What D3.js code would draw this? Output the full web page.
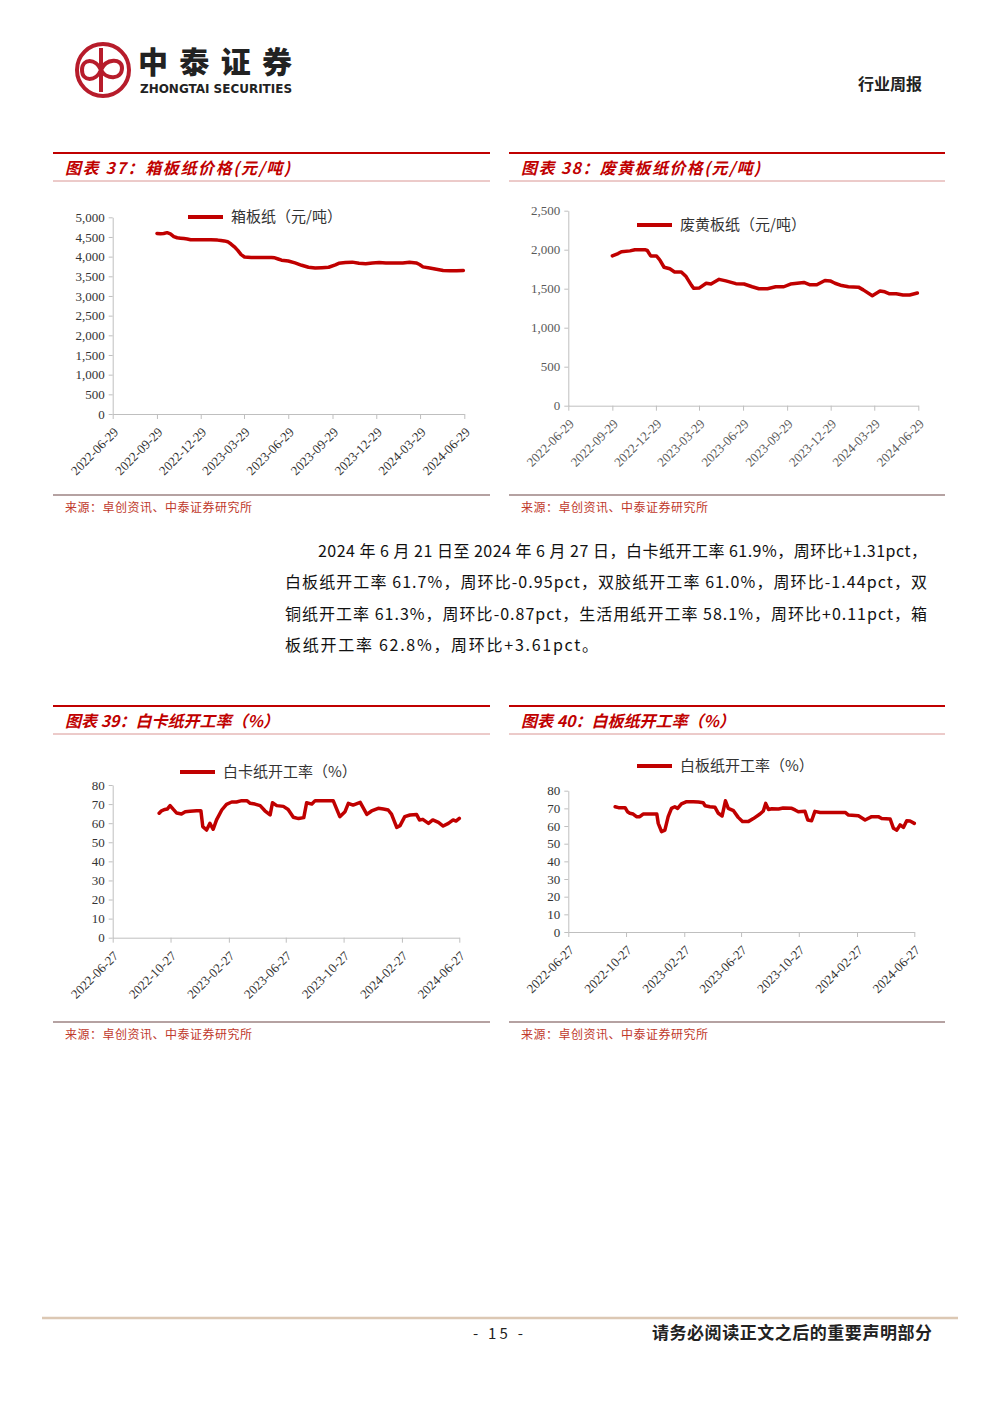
<!DOCTYPE html>
<html>
<head>
<meta charset="utf-8">
<script src="https://cdn.jsdelivr.net/npm/d3@7"></script>
<style>
  body { margin: 0; background: #fff; }
  svg text { font-family: "Noto Sans CJK SC", sans-serif; }
  .axis .tick text { font-family: "Liberation Serif", "DejaVu Serif", serif; }
</style>
</head>
<body>
<svg id="page" width="1000" height="1413"></svg>
<script>
// ---- data ----
var ticksA = ["2022-06-29","2022-09-29","2022-12-29","2023-03-29","2023-06-29","2023-09-29","2023-12-29","2024-03-29","2024-06-29"];
var ticksB = ["2022-06-27","2022-10-27","2023-02-27","2023-06-27","2023-10-27","2024-02-27","2024-06-27"];

var yTicks1 = [0,500,1000,1500,2000,2500,3000,3500,4000,4500,5000];
var yTicks2 = [0,500,1000,1500,2000,2500];
var yTicksPct = [0,10,20,30,40,50,60,70,80];

// 箱板纸价格
var dates1 = ["2022-09-29","2022-10-06","2022-10-13","2022-10-20","2022-10-27","2022-11-03","2022-11-10","2022-11-17","2022-11-24","2022-12-01",
  "2022-12-08","2022-12-22","2023-01-05","2023-01-19","2023-02-02","2023-02-09","2023-02-16","2023-02-23","2023-03-02","2023-03-09",
  "2023-03-16","2023-03-23","2023-03-30","2023-04-13","2023-04-27","2023-05-11","2023-05-25","2023-06-01","2023-06-08","2023-06-15",
  "2023-06-29","2023-07-13","2023-07-27","2023-08-10","2023-08-24","2023-09-07","2023-09-21","2023-10-05","2023-10-12","2023-10-26",
  "2023-11-09","2023-11-23","2023-12-07","2023-12-21","2024-01-04","2024-01-18","2024-02-01","2024-02-22","2024-03-07","2024-03-21",
  "2024-03-28","2024-04-04","2024-04-18","2024-05-02","2024-05-16","2024-05-30","2024-06-13","2024-06-27"];
var values1 = [4590,4580,4590,4610,4580,4510,4480,4470,4460,4450,
  4430,4430,4430,4430,4420,4410,4400,4380,4320,4250,
  4160,4050,3990,3980,3980,3980,3980,3970,3940,3910,
  3890,3840,3780,3730,3710,3720,3730,3790,3830,3850,
  3860,3830,3820,3840,3850,3840,3840,3840,3860,3840,
  3800,3740,3710,3680,3650,3640,3640,3650];

// 废黄板纸价格
var dates2 = ["2022-09-29","2022-10-11","2022-10-18","2022-11-05","2022-11-15","2022-12-06","2022-12-11","2022-12-18","2022-12-30","2023-01-06",
  "2023-01-15","2023-01-27","2023-02-06","2023-02-20","2023-03-02","2023-03-13","2023-03-18","2023-03-30","2023-04-13","2023-04-23",
  "2023-05-10","2023-05-24","2023-06-14","2023-07-01","2023-07-18","2023-08-01","2023-08-19","2023-09-05","2023-09-22","2023-10-06",
  "2023-10-20","2023-11-03","2023-11-16","2023-11-30","2023-12-17","2023-12-28","2024-01-07","2024-01-21","2024-02-04","2024-02-25",
  "2024-03-06","2024-03-25","2024-04-10","2024-04-20","2024-04-30","2024-05-14","2024-05-28","2024-06-11","2024-06-27"];
var values2 = [1920,1950,1975,1985,2000,2000,1990,1920,1920,1870,
  1775,1755,1715,1715,1655,1545,1505,1510,1570,1560,
  1620,1600,1565,1560,1525,1500,1500,1525,1525,1560,
  1570,1580,1550,1550,1605,1600,1570,1540,1525,1520,
  1485,1410,1470,1460,1435,1435,1420,1420,1445];

// 白卡纸开工率
var dates3 = ["2022-10-03","2022-10-08","2022-10-15","2022-10-20","2022-10-26","2022-11-02","2022-11-09","2022-11-19","2022-11-27","2022-12-07",
  "2022-12-21","2022-12-30","2023-01-03","2023-01-11","2023-01-18","2023-01-25","2023-02-01","2023-02-12","2023-02-22","2023-03-05",
  "2023-03-15","2023-03-26","2023-04-06","2023-04-13","2023-04-23","2023-05-04","2023-05-14","2023-05-25","2023-05-30","2023-06-08",
  "2023-06-22","2023-07-02","2023-07-13","2023-07-24","2023-08-04","2023-08-10","2023-08-21","2023-08-28","2023-09-11","2023-10-05",
  "2023-10-19","2023-10-30","2023-11-06","2023-11-16","2023-12-01","2023-12-15","2023-12-25","2024-01-08","2024-01-19","2024-01-29",
  "2024-02-05","2024-02-16","2024-02-23","2024-03-04","2024-03-15","2024-03-29","2024-04-04","2024-04-11","2024-04-23","2024-05-02",
  "2024-05-14","2024-05-24","2024-06-04","2024-06-14","2024-06-20","2024-06-27"];
var values3 = [65.2,66.5,67.2,67.4,69.2,67.2,65.3,64.8,66.0,66.2,
  66.5,66.5,58.2,56.4,59.9,56.8,61.7,66.9,69.9,71.1,
  71.1,71.8,71.8,70.4,70.0,69.2,66.5,64.3,70.7,69.2,
  68.8,67.2,63.1,62.4,62.9,70.7,70.0,71.8,71.8,71.8,
  63.4,66.0,70.4,69.5,70.9,64.6,66.4,67.8,67.4,66.9,
  64.8,57.8,58.7,63.4,64.3,64.5,61.7,62.0,59.9,61.7,
  60.4,58.5,59.9,61.7,61.1,62.5];

// 白板纸开工率
var dates4 = ["2022-10-04","2022-10-11","2022-10-25","2022-10-30","2022-11-04","2022-11-11","2022-11-18","2022-11-25","2022-12-02","2022-12-20",
  "2022-12-31","2023-01-03","2023-01-10","2023-01-17","2023-01-24","2023-01-31","2023-02-07","2023-02-13","2023-02-21","2023-03-04",
  "2023-03-18","2023-03-29","2023-04-08","2023-04-12","2023-04-22","2023-05-03","2023-05-10","2023-05-18","2023-05-25","2023-05-31",
  "2023-06-11","2023-06-21","2023-06-30","2023-07-12","2023-07-23","2023-08-06","2023-08-13","2023-08-18","2023-08-24","2023-08-31",
  "2023-09-14","2023-09-24","2023-10-12","2023-10-19","2023-10-26","2023-11-09","2023-11-15","2023-11-23","2023-11-30","2023-12-11",
  "2024-02-02","2024-02-09","2024-03-01","2024-03-15","2024-03-29","2024-04-12","2024-04-19","2024-05-07","2024-05-14","2024-05-21",
  "2024-05-28","2024-06-04","2024-06-11","2024-06-18","2024-06-27"];
var values4 = [70.9,70.4,70.4,68.1,67.2,66.8,65.3,65.3,66.8,66.8,
  66.8,61.5,56.8,57.7,65.3,70.0,70.9,70.0,72.5,73.8,
  73.8,73.6,73.2,71.5,70.9,70.6,67.2,65.7,74.3,70.0,
  68.7,64.9,62.5,62.5,64.2,66.8,68.5,72.8,69.4,69.8,
  69.6,70.2,70.0,69.1,68.1,68.3,63.4,63.0,68.3,67.7,
  67.7,66.2,65.8,63.4,65.3,65.3,64.3,64.0,58.7,57.7,
  60.6,59.2,63.0,62.8,61.5];

var bodyLines = [
  "2024 年 6 月 21 日至 2024 年 6 月 27 日，白卡纸开工率 61.9%，周环比+1.31pct，",
  "白板纸开工率 61.7%，周环比-0.95pct，双胶纸开工率 61.0%，周环比-1.44pct，双",
  "铜纸开工率 61.3%，周环比-0.87pct，生活用纸开工率 58.1%，周环比+0.11pct，箱",
  "板纸开工率 62.8%，周环比+3.61pct。"
];

// ---- page ----
var red = "#c00000";
var axisColor = "#bfbfbf";
var parse = d3.timeParse("%Y-%m-%d");
var svg = d3.select("#page");
svg.append("rect").attr("width", 1000).attr("height", 1413).attr("fill", "#fff");

// logo
var logo = svg.append("g").attr("fill", "none").attr("stroke", "#b71c2b");
logo.append("circle").attr("cx", 103).attr("cy", 70).attr("r", 26).attr("stroke-width", 4);
logo.append("path").attr("stroke-width", 4)
  .attr("d", "M101,48 L101,92 M101,70 C96,58 82,58 82,70 C82,82 96,82 101,70 C106,58 122,58 122,68 C122,80 106,80 101,70");
svg.append("text").attr("x", 138).attr("y", 72.5).attr("font-size", 30).attr("font-weight", 900)
  .attr("textLength", 154).attr("lengthAdjust", "spacing").attr("fill", "#222").text("中泰证券");
svg.append("text").attr("x", 140).attr("y", 92.5).attr("font-size", 11.5).attr("font-weight", 700)
  .style("font-family", "'DejaVu Sans', sans-serif")
  .attr("textLength", 152).attr("lengthAdjust", "spacingAndGlyphs").attr("fill", "#222").text("ZHONGTAI SECURITIES");
svg.append("text").attr("x", 922).attr("y", 90).attr("text-anchor", "end").attr("font-size", 16).attr("font-weight", 700)
  .attr("fill", "#222").text("行业周报");

// panel frames
function drawPanel(x0, x1, yTop, ySrc, title, titleLen) {
  svg.append("line").attr("x1", x0).attr("x2", x1).attr("y1", yTop).attr("y2", yTop)
    .attr("stroke", red).attr("stroke-width", 2);
  var t = svg.append("text").attr("x", x0 + 12).attr("y", yTop + 21).attr("font-size", 16).attr("font-weight", 700)
    .attr("font-style", "italic").attr("fill", red).text(title);
  if (titleLen) t.attr("textLength", titleLen).attr("lengthAdjust", "spacing");
  svg.append("line").attr("x1", x0).attr("x2", x1).attr("y1", yTop + 28).attr("y2", yTop + 28)
    .attr("stroke", "#d99694").attr("stroke-width", 1);
  svg.append("line").attr("x1", x0).attr("x2", x1).attr("y1", ySrc).attr("y2", ySrc)
    .attr("stroke", "#9d8383").attr("stroke-width", 1.3);
  svg.append("text").attr("x", x0 + 12).attr("y", ySrc + 17).attr("font-size", 12)
    .attr("fill", "#c0392b").attr("textLength", 187).attr("lengthAdjust", "spacing")
    .text("来源：卓创资讯、中泰证券研究所");
}

function drawChart(o) {
  var data = o.dates.map(function(d, i) { return { date: parse(d), value: o.values[i] }; });
  var x = d3.scaleTime()
    .domain([parse(o.ticks[0]), parse(o.ticks[o.ticks.length - 1])])
    .range([o.x0, o.x1]);
  var y = d3.scaleLinear()
    .domain([0, o.yTicks[o.yTicks.length - 1]])
    .range([o.yBottom, o.yTop]);

  var g = svg.append("g");

  var xAxis = g.append("g").attr("class", "axis")
    .attr("transform", `translate(0,${o.yBottom})`)
    .call(d3.axisBottom(x).tickValues(o.ticks.map(parse)).tickFormat(d3.timeFormat("%Y-%m-%d"))
      .tickSize(5).tickSizeOuter(0));
  xAxis.selectAll("text")
    .attr("x", 0).attr("y", 0).attr("dy", 0)
    .attr("transform", "translate(6,19) rotate(-45)")
    .style("text-anchor", "end")
    .attr("font-size", 13).attr("fill", o.labelColor);

  var yAxis = g.append("g").attr("class", "axis")
    .attr("transform", `translate(${o.x0},0)`)
    .call(d3.axisLeft(y).tickValues(o.yTicks).tickFormat(o.fmt).tickSize(4).tickPadding(4).tickSizeOuter(0));
  yAxis.selectAll("text").attr("font-size", 13).attr("fill", o.labelColor);

  g.selectAll(".domain").attr("stroke", axisColor);
  g.selectAll(".tick line").attr("stroke", axisColor);

  var line = d3.line().x(d => x(d.date)).y(d => y(d.value));
  g.append("path").datum(data)
    .attr("d", line)
    .attr("fill", "none")
    .attr("stroke", red)
    .attr("stroke-width", 3.5)
    .attr("stroke-linejoin", "round")
    .attr("stroke-linecap", "round");

  // legend
  g.append("line").attr("x1", o.legX).attr("x2", o.legX + 35).attr("y1", o.legY).attr("y2", o.legY)
    .attr("stroke", red).attr("stroke-width", 4);
  g.append("text").attr("x", o.legX + 43).attr("y", o.legY + 5).attr("font-size", 15)
    .attr("fill", "#333").text(o.legend);
}

drawPanel(53, 490, 153, 495, "图表 37：箱板纸价格(元/吨)", 225);
drawPanel(509, 945, 153, 495, "图表 38：废黄板纸价格(元/吨)", 239);
drawPanel(53, 490, 706, 1022, "图表 39：白卡纸开工率（%）", 0);
drawPanel(509, 945, 706, 1022, "图表 40：白板纸开工率（%）", 0);

drawChart({ dates: dates1, values: values1, ticks: ticksA, yTicks: yTicks1, fmt: d3.format(","),
  x0: 112.7, x1: 464.3, yTop: 217.3, yBottom: 414, labelColor: "#333",
  legX: 188, legY: 217, legend: "箱板纸（元/吨）" });
drawChart({ dates: dates2, values: values2, ticks: ticksA, yTicks: yTicks2, fmt: d3.format(","),
  x0: 568.3, x1: 918.3, yTop: 210.7, yBottom: 405.7, labelColor: "#595959",
  legX: 637, legY: 225, legend: "废黄板纸（元/吨）" });
drawChart({ dates: dates3, values: values3, ticks: ticksB, yTicks: yTicksPct, fmt: d3.format("d"),
  x0: 112.7, x1: 459.3, yTop: 785, yBottom: 937.7, labelColor: "#333",
  legX: 180, legY: 772, legend: "白卡纸开工率（%）" });
drawChart({ dates: dates4, values: values4, ticks: ticksB, yTicks: yTicksPct, fmt: d3.format("d"),
  x0: 568.3, x1: 914.3, yTop: 790.7, yBottom: 932, labelColor: "#333",
  legX: 637, legY: 766, legend: "白板纸开工率（%）" });

// body text
var bodyX = [318, 285, 285, 285];
var bodyLen = [609, 642, 642, 313];
var bodyY = [557, 588, 620, 651];
bodyLines.forEach(function(t, i) {
  svg.append("text").attr("x", bodyX[i]).attr("y", bodyY[i]).attr("font-size", 16)
    .attr("fill", "#111").attr("textLength", bodyLen[i]).attr("lengthAdjust", "spacing").text(t);
});

// footer
svg.append("line").attr("x1", 42).attr("x2", 958).attr("y1", 1318).attr("y2", 1318)
  .attr("stroke", "#dcc8b4").attr("stroke-width", 2.5);
svg.append("text").attr("x", 473).attr("y", 1339).attr("font-size", 15)
  .attr("fill", "#222").attr("textLength", 50).attr("lengthAdjust", "spacing").text("- 15 -");
svg.append("text").attr("x", 932).attr("y", 1339).attr("text-anchor", "end").attr("font-size", 17)
  .attr("font-weight", 700).attr("fill", "#222").attr("textLength", 280).attr("lengthAdjust", "spacing")
  .text("请务必阅读正文之后的重要声明部分");
</script>
</body>
</html>
